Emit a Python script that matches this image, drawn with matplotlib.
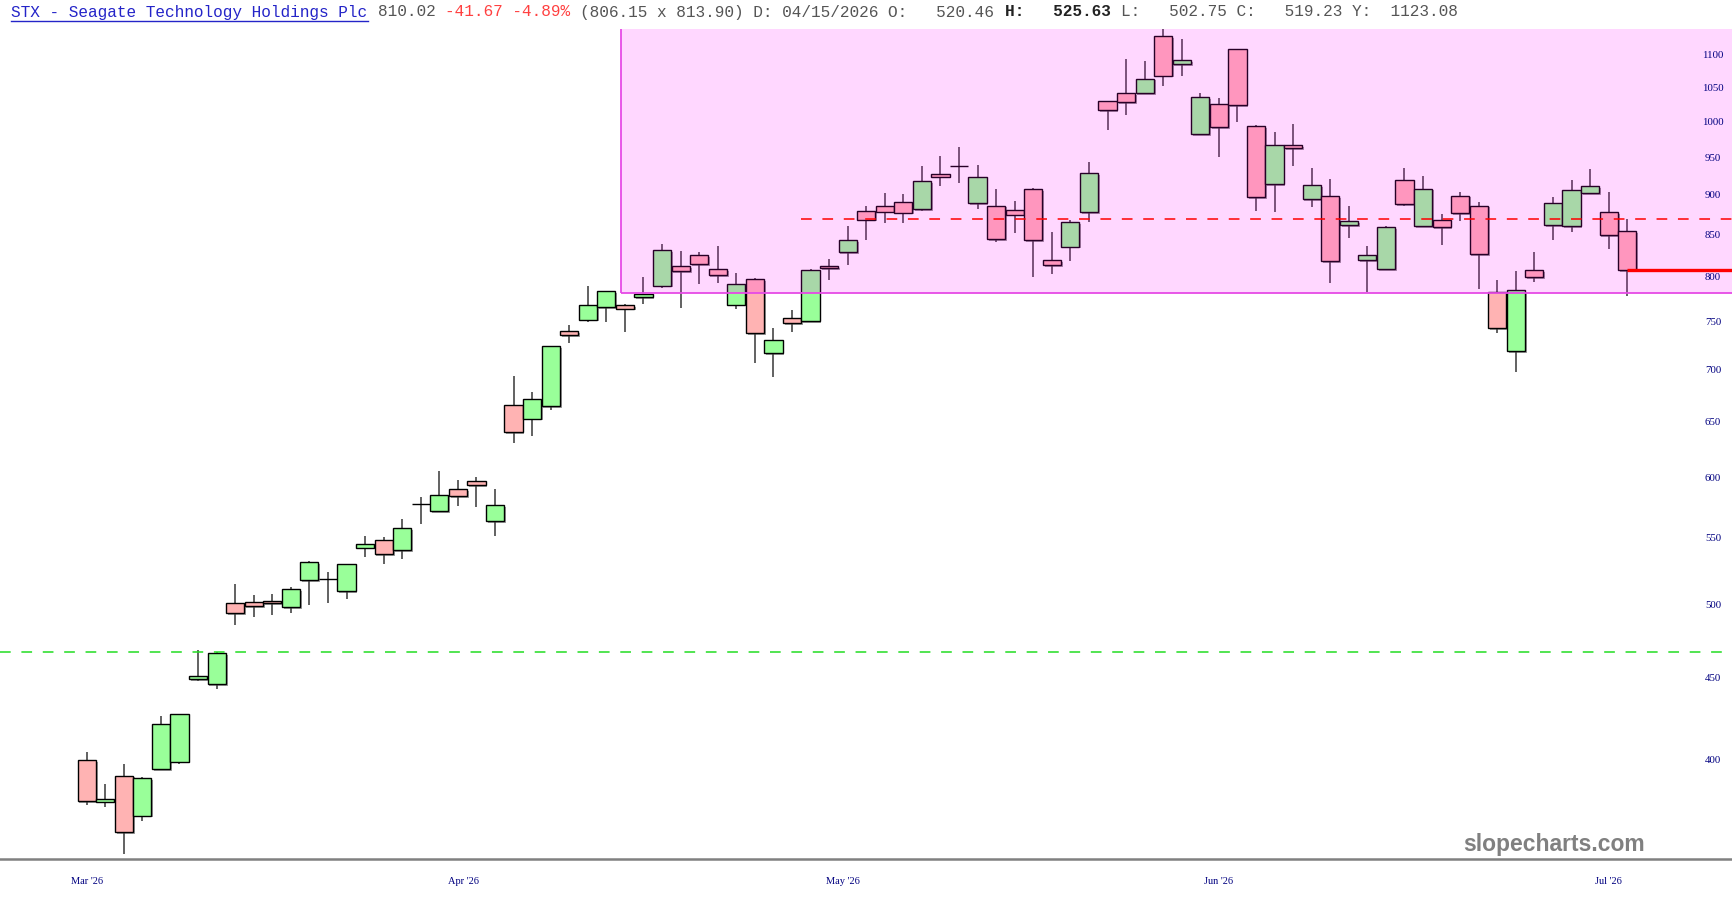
import numpy as np
import matplotlib
matplotlib.use('Agg')
import matplotlib.pyplot as plt
import matplotlib.patheffects as pe
from matplotlib.patches import Rectangle
from matplotlib.lines import Line2D
from matplotlib.transforms import blended_transform_factory

# ---------------------------------------------------------------------------- #
#                                daily candles                                 #
# ---------------------------------------------------------------------------- #

opens = [400.4, 377.3, 391.7, 369.8, 395.3, 399.6, 449.8, 446.5, 501.6, 502.5,
         503.2, 498.7, 518.6, 519.0, 510.3, 543.2, 549.0, 541.5, 578.3, 572.6,
         590.9, 597.7, 564.4, 666.4, 653.8, 665.7, 741.2, 753.4, 767.0, 769.5,
         778.3, 791.1, 813.7, 826.3, 810.4, 769.8, 798.8, 718.3, 755.5, 752.1,
         813.7, 829.8, 880.1, 887.5, 891.4, 883.4, 928.5, 939.4, 890.2, 887.5,
         881.9, 908.4, 820.5, 836.7, 879.4, 1031.1, 1042.5, 1042.9, 1131.9, 1087.6,
         982.9, 1027.1, 1110.5, 994.6, 914.9, 967.6, 895.9, 899.7, 863.1, 820.5,
         810.2, 920.9, 861.2, 868.9, 900.1, 887.5, 784.1, 720.3, 809.4, 863.1,
         861.2, 903.9, 878.9, 855.4]
highs = [405.2, 386.8, 398.1, 390.7, 426.9, 428.0, 469.2, 467.5, 515.6, 507.6,
         508.1, 513.2, 533.2, 524.6, 530.4, 552.4, 551.4, 565.8, 584.5, 606.2,
         598.6, 601.0, 591.2, 695.0, 679.3, 725.3, 747.3, 790.4, 785.6, 770.6,
         800.9, 839.6, 831.4, 829.8, 837.1, 805.9, 799.5, 744.2, 763.8, 810.3,
         822.3, 861.6, 886.6, 903.6, 902.2, 939.4, 952.9, 965.2, 940.2, 908.8,
         893.0, 910.3, 854.2, 869.8, 944.6, 1031.1, 1095.2, 1092.5, 1143.0, 1126.6,
         1042.9, 1035.6, 1110.5, 996.5, 986.9, 997.8, 936.3, 921.4, 886.3, 837.1,
         861.9, 936.7, 926.2, 877.3, 905.2, 891.4, 797.6, 807.5, 830.6, 898.8,
         920.5, 935.3, 904.8, 870.1]
lows = [375.4, 374.6, 350.2, 366.8, 395.0, 398.5, 448.6, 443.7, 486.2, 491.6,
        493.2, 494.4, 500.1, 501.6, 504.7, 536.2, 530.4, 534.7, 562.0, 571.9,
        577.0, 575.8, 552.2, 631.0, 637.6, 661.4, 728.1, 751.2, 751.2, 740.6,
        770.6, 788.5, 765.7, 792.9, 794.5, 765.0, 708.4, 693.5, 739.7, 752.1,
        798.1, 815.2, 845.0, 865.1, 866.0, 880.9, 913.3, 917.1, 883.4, 842.6,
        852.6, 800.5, 805.0, 820.0, 867.3, 989.3, 1011.0, 1042.5, 1052.9, 1068.3,
        981.5, 952.1, 1000.6, 880.1, 878.9, 939.0, 885.0, 794.5, 847.0, 784.4,
        810.2, 887.1, 861.2, 838.7, 868.5, 787.8, 739.1, 699.4, 795.5, 844.6,
        854.3, 903.9, 833.6, 779.9]
closes = [377.7, 378.9, 361.1, 390.4, 421.6, 427.9, 451.9, 467.2, 494.8, 499.6,
          501.6, 511.7, 531.9, 519.2, 530.4, 546.1, 538.3, 558.6, 578.5, 585.9,
          584.8, 594.1, 577.3, 641.5, 672.3, 725.3, 736.9, 769.2, 784.9, 765.4,
          781.2, 832.3, 807.5, 815.7, 803.6, 793.4, 739.4, 731.6, 750.0, 809.1,
          811.0, 844.6, 869.8, 879.7, 878.5, 919.6, 925.0, 939.6, 924.3, 846.2,
          875.9, 844.6, 814.5, 866.9, 929.5, 1017.6, 1029.6, 1064.7, 1069.4, 1093.0,
          1037.0, 993.1, 1024.8, 898.8, 967.6, 963.9, 914.0, 819.3, 867.6, 826.7,
          860.0, 889.4, 909.2, 860.4, 878.1, 827.5, 744.2, 786.5, 800.9, 890.6,
          907.1, 912.5, 850.7, 809.1]

month_pos = [0, 20.3, 40.75, 61, 82]
month_labels = ["Mar '26", "Apr '26", "May '26", "Jun '26", "Jul '26"]
price_ticks = [400, 450, 500, 550, 600, 650, 700, 750, 800, 850, 900, 950, 1000, 1050, 1100]

zone_start = 28.8      # left edge of the shaded zone (bar index)
zone_low = 783.3
resist_start = 38.5
resist_level = 870.6
support_level = 467.5
last_close = 809.4

title = 'STX - Seagate Technology Holdings Plc'
hdr_last = '810.02'
hdr_change = '-41.67 -4.89%'
hdr_rest1 = '(806.15 x 813.90) D: 04/15/2026 O:   520.46'
hdr_bold = 'H:   525.63'
hdr_rest2 = 'L:   502.75 C:   519.23 Y:  1123.08'

W, H = 1733, 900
fig = plt.figure(figsize=(W / 100, H / 100), dpi=100)
ax = fig.add_axes([0, (H - 859) / H, 1, (859 - 29) / H])

x = np.arange(len(opens))
o = np.array(opens)
c = np.array(closes)
up = c >= o
lo_body = np.minimum(o, c)
hi_body = np.maximum(o, c)

ax.vlines(x, lows, highs, color='#555555', lw=1.3, zorder=2)
bars = ax.bar(x, hi_body - lo_body, bottom=lo_body, width=0.98,
              color=np.where(up, '#99ff99', '#ffb3b3'), edgecolor='black',
              linewidth=1.0, zorder=3)
for b in bars:
    b.set_path_effects([pe.SimplePatchShadow(offset=(1.3, -1.3), shadow_rgbFace='0.3', alpha=0.55),
                        pe.Normal()])

# shaded zone drawn over the candles
ax.add_patch(Rectangle((zone_start, zone_low), 200, 2000, facecolor=(1, 0, 1, 0.155),
                       edgecolor='none', zorder=4))
ax.add_patch(Rectangle((zone_start, zone_low), 200, 2000, facecolor='none',
                       edgecolor='#e64ae6', lw=1.3, zorder=5))

ax.hlines(resist_level, resist_start, 200, colors='#ff0000', linestyles=(0, (7, 7)), lw=1.1, zorder=6)
ax.axhline(support_level, color='#22dd22', ls=(0, (7, 7)), lw=1.1, zorder=6)
ax.hlines(last_close, x[-1], 200, colors='#ff0000', lw=2.4, zorder=6)

ax.set_yscale('log')
ax.set_ylim(347.5, 1143.3)
ax.set_xlim(-4.67, 88.7)
ax.yaxis.set_major_locator(matplotlib.ticker.NullLocator())
ax.yaxis.set_minor_locator(matplotlib.ticker.NullLocator())

ax.set_xticks(month_pos)
ax.set_xticklabels(month_labels, family='Liberation Serif', fontsize=7.5, color='#000080')
ax.tick_params(axis='x', length=0, pad=13)

for s in ['top', 'left', 'right']:
    ax.spines[s].set_visible(False)
ax.spines['bottom'].set_color('#808080')
ax.spines['bottom'].set_linewidth(1.8)

trans = blended_transform_factory(ax.transAxes, ax.transData)
for p in price_ticks:
    ax.text(1713 / W, p, str(p), transform=trans, ha='center', va='center',
            family='Liberation Serif', fontsize=7.8, color='#000080', zorder=7)

fig.text(1554 / W, 1 - 845 / H, 'slopecharts.com', ha='center', va='center',
         family='Liberation Sans', fontweight='bold', fontsize=16.5, color='#808080')

# header line, monospace columns
cw = 9.65
x0 = 11
hy = 1 - 12 / H
mono = dict(family='Liberation Mono', fontsize=11.6, va='center', ha='left')
fig.text(x0 / W, hy, title, color='#2424c8', **mono)
fig.add_artist(Line2D([x0 / W, (x0 + cw * len(title)) / W], [1 - 20.5 / H] * 2,
                      color='#2424c8', lw=1.0))
fig.text((x0 + cw * 38) / W, hy, hdr_last, color='#555555', **mono)
fig.text((x0 + cw * 45) / W, hy, hdr_change, color='#ff4040', **mono)
fig.text((x0 + cw * 59) / W, hy, hdr_rest1, color='#555555', **mono)
fig.text((x0 + cw * 103) / W, hy, hdr_bold, color='#222222', fontweight='bold', **mono)
fig.text((x0 + cw * 115) / W, hy, hdr_rest2, color='#555555', **mono)

fig.savefig('out.png', dpi=100)
